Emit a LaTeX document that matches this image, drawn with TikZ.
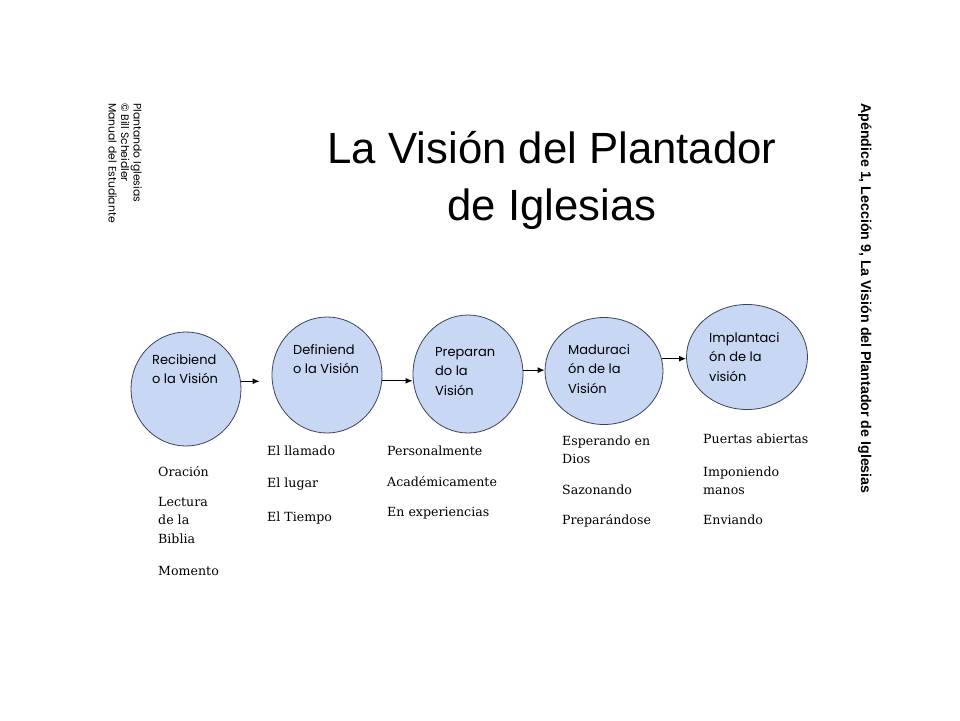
\documentclass[tikz,border=0pt]{standalone}
\usepackage{fontspec}
\setmainfont{DejaVu Serif}
\newfontfamily\gotica{Poppins}
\newfontfamily\arial{Liberation Sans}
\usetikzlibrary{shapes.geometric,arrows.meta}
\definecolor{azulclaro}{RGB}{200,216,244}
\definecolor{borde}{RGB}{60,66,90}
\begin{document}
\begin{tikzpicture}[x=1pt,y=-1pt,
    etapa/.style={ellipse,draw=borde,line width=0.8pt,fill=azulclaro,inner sep=0pt},
    rotulo/.style={anchor=base west,align=left,inner sep=0pt,
      font=\gotica\fontsize{13}{19.5}\selectfont},
    lista/.style={anchor=base west,align=left,inner sep=0pt,
      font=\fontsize{12.6}{18.5}\selectfont},
    flecha/.style={-{Latex[length=7pt,width=6pt]},line width=1.2pt}]
  \useasboundingbox (0,0) rectangle (960,720);

  % margenes
  \node[rotate=-90,anchor=north west,align=left,inner sep=0pt,
    font=\gotica\fontsize{10.8}{12.5}\selectfont] (credito) at (142,103)
    {Plantando Iglesias\\© Bill Scheidler\\Manual del Estudiante};
  \node[rotate=-90,anchor=base west,inner sep=0pt,
    font=\arial\bfseries\fontsize{14.2}{17}\selectfont] (apendice) at (861,103)
    {Apéndice 1, Lección 9, La Visión del Plantador de Iglesias};

  % titulo (base = ultima linea)
  \node[anchor=base,align=center,inner sep=0pt,
    font=\arial\fontsize{43.7}{57}\selectfont] (titulo) at (552,220)
    {La Visión del Plantador\\de Iglesias};

  % etapas
  \node[etapa,minimum width=110pt,minimum height=114pt] (recibiendo) at (186,389) {};
  \node[etapa,minimum width=110pt,minimum height=116pt] (definiendo) at (327,375) {};
  \node[etapa,minimum width=110pt,minimum height=118pt] (preparando) at (468,374) {};
  \node[etapa,minimum width=118pt,minimum height=107pt] (maduracion) at (604,371) {};
  \node[etapa,minimum width=121pt,minimum height=105pt] (implantacion) at (747,357) {};

  \node[rotulo] (t1) at (152,383.5) {Recibiend\\o la Visión};
  \node[rotulo] (t2) at (293,373.5) {Definiend\\o la Visión};
  \node[rotulo] (t3) at (435,395) {Preparan\\do la\\Visión};
  \node[rotulo] (t4) at (568,393) {Maduraci\\ón de la\\Visión};
  \node[rotulo] (t5) at (709,381) {Implantaci\\ón de la\\visión};

  % flechas
  \draw[flecha,shorten >=12pt] (recibiendo.8) -- (recibiendo.8 -| definiendo.west);
  \draw[flecha] (definiendo.-6) -- (definiendo.-6 -| preparando.west);
  \draw[flecha] (preparando.4) -- (preparando.4 -| maduracion.west);
  \draw[flecha] (maduracion.12) -- (maduracion.12 -| implantacion.west);

  % listas
  \node[lista] (oracion) at (158,476) {Oración};
  \node[lista] (lectura) at (158,543) {Lectura\\de la\\Biblia};
  \node[lista] (momento) at (158,575) {Momento};

  \node[lista] (llamado) at (267,455) {El llamado};
  \node[lista] (lugar) at (267,487) {El lugar};
  \node[lista] (tiempo) at (267,521) {El Tiempo};

  \node[lista] (personal) at (387,455) {Personalmente};
  \node[lista] (academica) at (387,486) {Académicamente};
  \node[lista] (experiencia) at (387,516) {En experiencias};

  \node[lista] (esperando) at (562,463.5) {Esperando en\\Dios};
  \node[lista] (sazonando) at (562,494) {Sazonando};
  \node[lista] (preparandose) at (562,524) {Preparándose};

  \node[lista] (puertas) at (703,443) {Puertas abiertas};
  \node[lista] (imponiendo) at (703,494.5) {Imponiendo\\manos};
  \node[lista] (enviando) at (703,524) {Enviando};
\end{tikzpicture}
\end{document}
